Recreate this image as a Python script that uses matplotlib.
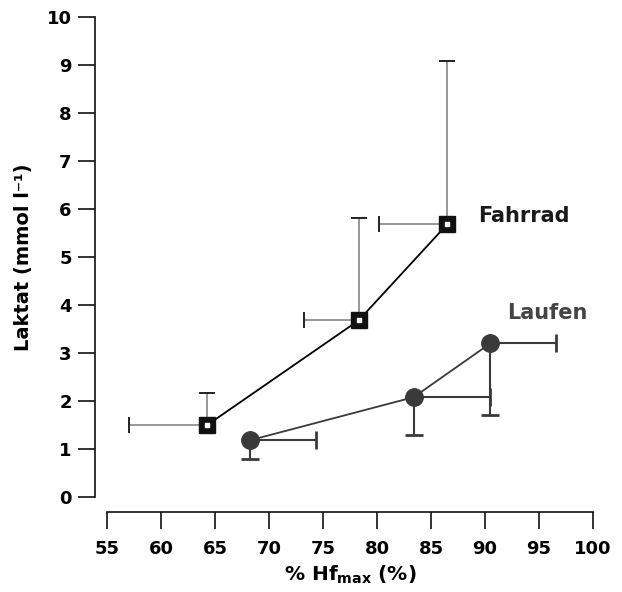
import matplotlib
matplotlib.use('Agg')
import matplotlib.pyplot as plt

# Laktat vs. % der maximalen Herzfrequenz, Fahrrad und Laufen
fahrrad_hf = [64.2, 78.3, 86.5]
fahrrad_laktat = [1.49, 3.68, 5.68]
fahrrad_hf_minus = [7.2, 5.1, 6.3]      # nur nach links
fahrrad_laktat_plus = [0.68, 2.13, 3.40]  # nur nach oben

laufen_hf = [68.2, 83.4, 90.5]
laufen_laktat = [1.18, 2.08, 3.20]
laufen_hf_plus = [6.1, 7.1, 6.1]        # nur nach rechts
laufen_laktat_minus = [0.39, 0.79, 1.50]  # nur nach unten

x_ticks = [55, 60, 65, 70, 75, 80, 85, 90, 95, 100]
y_ticks = [0, 1, 2, 3, 4, 5, 6, 7, 8, 9, 10]

plt.rcParams['font.family'] = 'DejaVu Sans'
plt.rcParams['font.weight'] = 'bold'
plt.rcParams['mathtext.default'] = 'bf'

fig = plt.figure(figsize=(6.22, 5.92), dpi=100)
ax = fig.add_axes([107.3 / 622, 95 / 592, 485.5 / 622, 480 / 592])

# Fahrrad
eb = ax.errorbar(fahrrad_hf, fahrrad_laktat,
                 xerr=[fahrrad_hf_minus, [0] * 3],
                 yerr=[[0] * 3, fahrrad_laktat_plus],
                 fmt='none', ecolor='#7a7a7a', elinewidth=1.1,
                 capsize=6, capthick=1.3, zorder=2, clip_on=False)
for cap in eb[1]:
    cap.set_markeredgecolor('#111111')
ax.plot(fahrrad_hf, fahrrad_laktat, color='black', lw=1.3, zorder=3)
ax.plot(fahrrad_hf, fahrrad_laktat, ls='none', marker='s', ms=12,
        mfc='#111111', mec='#111111', zorder=4)
ax.plot(fahrrad_hf, fahrrad_laktat, ls='none', marker='s', ms=3,
        mfc='white', mec='white', zorder=5)

# Laufen
eb2 = ax.errorbar(laufen_hf, laufen_laktat,
                  xerr=[[0] * 3, laufen_hf_plus],
                  yerr=[laufen_laktat_minus, [0] * 3],
                  fmt='none', ecolor='#3a3a3a', elinewidth=1.5,
                  capsize=6.5, capthick=2, zorder=2, clip_on=False)
ax.plot(laufen_hf, laufen_laktat, color='#3a3a3a', lw=1.3, zorder=3)
ax.plot(laufen_hf, laufen_laktat, ls='none', marker='o', ms=12.5,
        mfc='#3a3a3a', mec='#3a3a3a', zorder=4)

ax.text(89.4, 5.73, 'Fahrrad', fontsize=15, fontweight='bold',
        color='#1a1a1a', va='baseline', ha='left')
ax.text(92.1, 3.70, 'Laufen', fontsize=15, fontweight='bold',
        color='#444444', va='baseline', ha='left')

ax.set_xlim(55, 100)
ax.set_ylim(0, 10)
ax.set_xticks(x_ticks)
ax.set_yticks(y_ticks)
ax.tick_params(axis='both', direction='out', length=12, width=1.2,
               labelsize=13, color='#111111')
ax.tick_params(axis='x', pad=8)
ax.tick_params(axis='y', pad=5)
for lab in ax.get_xticklabels() + ax.get_yticklabels():
    lab.set_fontweight('bold')

for side in ['top', 'right']:
    ax.spines[side].set_visible(False)
ax.spines['left'].set_position(('outward', 8.6))
ax.spines['bottom'].set_position(('outward', 11))
ax.spines['left'].set_bounds(0, 10)
ax.spines['bottom'].set_bounds(55, 100)
for side in ['left', 'bottom']:
    ax.spines[side].set_linewidth(1.2)
    ax.spines[side].set_color('#111111')

ax.set_xlabel(r'% Hf$_{max}$ (%)', fontsize=14.5, fontweight='bold', labelpad=4)
ax.set_ylabel('Laktat (mmol l\u207b\u00b9)', fontsize=14, fontweight='bold', labelpad=10)

fig.savefig('out.png', dpi=100)
